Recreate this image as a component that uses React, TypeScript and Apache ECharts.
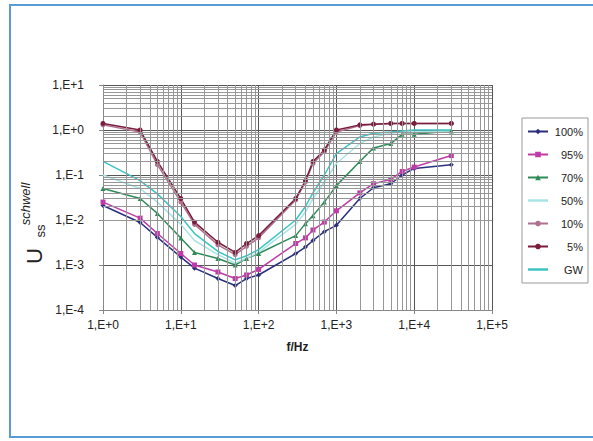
import React, { useEffect, useRef } from "react";
import * as echarts from "echarts";

const freq = [1, 3, 5, 10, 15, 30, 50, 70, 100, 300, 400, 500, 700, 1000, 2000, 3000, 5000, 7000, 10000, 30000];
const s100 = [0.021, 0.0088, 0.0041, 0.0015, 0.00085, 0.0005, 0.00035, 0.0005, 0.0006, 0.0018, 0.0025, 0.0035, 0.0055, 0.0076, 0.03, 0.052, 0.064, 0.1, 0.14, 0.17];
const s95 = [0.025, 0.011, 0.005, 0.0018, 0.001, 0.0007, 0.0005, 0.0006, 0.0008, 0.003, 0.004, 0.006, 0.009, 0.016, 0.04, 0.064, 0.08, 0.12, 0.15, 0.27];
const s70 = [0.05, 0.03, 0.014, 0.004, 0.0019, 0.0014, 0.001, 0.0014, 0.0018, 0.0045, 0.0083, 0.0125, 0.025, 0.058, 0.2, 0.4, 0.5, 0.8, 0.8, 0.95];
const s50 = [0.1, 0.05, 0.025, 0.008, 0.0035, 0.0017, 0.0011, 0.0014, 0.0019, 0.008, 0.015, 0.03, 0.07, 0.18, 0.5, 0.7, 0.85, 0.9, 0.9, 0.95];
const s10 = [1.3, 0.9, 0.17, 0.025, 0.008, 0.0028, 0.0017, 0.0026, 0.004, 0.028, 0.07, 0.18, 0.33, 0.9, 1.25, 1.35, 1.4, 1.4, 1.4, 1.4];
const s5 = [1.4, 1.0, 0.2, 0.03, 0.009, 0.0032, 0.0019, 0.003, 0.0045, 0.03, 0.075, 0.2, 0.36, 1.0, 1.3, 1.35, 1.4, 1.4, 1.4, 1.4];
const sGW = [0.2, 0.075, 0.038, 0.012, 0.005, 0.002, 0.0013, 0.0016, 0.0022, 0.01, 0.02, 0.04, 0.1, 0.3, 0.7, 0.85, 0.9, 0.95, 1.0, 1.0];

const seriesNames = ["100%", "95%", "70%", "50%", "10%", "5%", "GW"];
const seriesValues = [s100, s95, s70, s50, s10, s5, sGW];
const seriesColors = ["#2b2f7e", "#c03aa8", "#2e8b57", "#a8e4e4", "#b07090", "#7a1c3c", "#3cc4c4"];
const seriesSymbols = ["diamond", "rect", "triangle", "none", "circle", "circle", "none"];

const xDecades = [0, 1, 2, 3, 4];
const yDecades = [-4, -3, -2, -1, 0];
const minorSteps = [2, 3, 4, 5, 6, 7, 8, 9];

const FONT = "'Liberation Sans', Arial, sans-serif";
const LINE_ICON = "path://M0,0L24,0L24,3L0,3Z";

const fmt = (v: number) => {
  const e = Math.round(Math.log10(v));
  return "1,E" + (e >= 0 ? "+" : "") + e;
};

export default function App() {
  const ref = useRef<HTMLDivElement>(null);
  useEffect(() => {
    const chart = echarts.init(ref.current!, null, { renderer: "svg" });
    const minorLines: any[] = [];
    xDecades.forEach((d) => minorSteps.forEach((m) => minorLines.push({ xAxis: m * Math.pow(10, d) })));
    yDecades.forEach((d) => minorSteps.forEach((m) => minorLines.push({ yAxis: m * Math.pow(10, d) })));

    const series: any[] = [
      {
        type: "line",
        name: "__grid",
        data: [[1, 1]],
        symbol: "none",
        lineStyle: { opacity: 0 },
        silent: true,
        z: 1,
        markLine: {
          silent: true,
          symbol: "none",
          label: { show: false },
          animation: false,
          lineStyle: { type: "solid", color: "#979797", width: 1 },
          data: minorLines,
        },
      },
    ];
    seriesNames.forEach((n, i) => {
      series.push({
        type: "line",
        name: n,
        data: freq.map((f, j) => [f, seriesValues[i][j]]),
        symbol: seriesSymbols[i],
        symbolSize: 5,
        showSymbol: seriesSymbols[i] !== "none",
        lineStyle: { color: seriesColors[i], width: 1.5 },
        itemStyle: { color: seriesColors[i] },
        z: 3,
      });
    });

    const legendData = seriesNames.map((n, i) =>
      seriesSymbols[i] === "none" ? { name: n, icon: LINE_ICON } : { name: n }
    );

    chart.setOption({
      animation: false,
      backgroundColor: "#ffffff",
      grid: { left: 103, right: 101, top: 85, bottom: 131 },
      legend: {
        data: legendData,
        orient: "vertical",
        left: 522,
        top: 118,
        padding: [8, 5, 8, 5],
        itemGap: 12,
        itemWidth: 20,
        itemHeight: 7,
        borderColor: "#999",
        borderWidth: 1,
        formatter: (n: string) => "{a|" + n + "}",
        textStyle: {
          fontFamily: FONT,
          fontSize: 11,
          color: "#222",
          rich: { a: { width: 30, height: 13, align: "right", fontFamily: FONT, fontSize: 11, color: "#222" } },
        },
      },
      xAxis: {
        type: "log",
        logBase: 10,
        min: 1,
        max: 100000,
        splitNumber: 5,
        axisLine: { show: true, lineStyle: { color: "#888" } },
        axisTick: { show: true, length: 4, lineStyle: { color: "#888" } },
        axisLabel: { formatter: fmt, color: "#222", fontSize: 12, margin: 9, fontFamily: FONT },
        splitLine: { show: true, lineStyle: { color: "#555", width: 1 } },
        name: "f/Hz",
        nameLocation: "middle",
        nameGap: 31,
        nameTextStyle: { fontWeight: "bold", fontSize: 12, color: "#222", fontFamily: FONT },
      },
      yAxis: {
        type: "log",
        logBase: 10,
        min: 0.0001,
        max: 10,
        splitNumber: 5,
        axisLine: { show: true, lineStyle: { color: "#888" } },
        axisTick: { show: true, length: 4, lineStyle: { color: "#888" } },
        axisLabel: { formatter: fmt, color: "#222", fontSize: 12, margin: 19, fontFamily: FONT },
        splitLine: { show: true, lineStyle: { color: "#555", width: 1 } },
      },
      graphic: [
        {
          type: "rect",
          shape: { x: 10, y: 5, width: 620, height: 432 },
          style: { fill: "none", stroke: "#5b9bd5", lineWidth: 2 },
          silent: true,
        },
        {
          type: "text",
          x: 34,
          y: 256,
          rotation: Math.PI / 2,
          style: { text: "U", fontSize: 22, fontFamily: FONT, fill: "#222", align: "center", verticalAlign: "middle" },
        },
        {
          type: "text",
          x: 40,
          y: 231,
          rotation: Math.PI / 2,
          style: { text: "ss", fontSize: 13, fontFamily: FONT, fill: "#222", align: "center", verticalAlign: "middle" },
        },
        {
          type: "text",
          x: 25,
          y: 204,
          rotation: Math.PI / 2,
          style: { text: "schwell", fontSize: 13, fontStyle: "italic", fontFamily: FONT, fill: "#222", align: "center", verticalAlign: "middle" },
        },
      ],
      series,
    });
    return () => chart.dispose();
  }, []);
  return <div ref={ref} style={{ position: "absolute", left: 0, top: 0, width: 593, height: 441 }} />;
}
